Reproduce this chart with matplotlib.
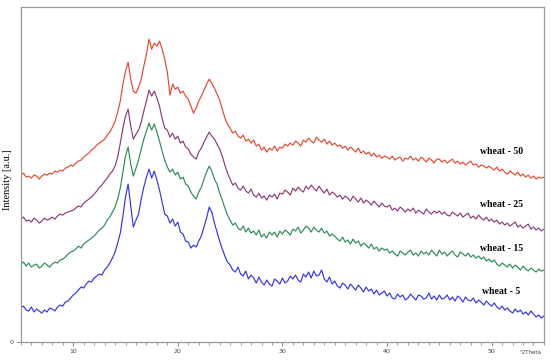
import numpy as np
import matplotlib
matplotlib.use("Agg")
import matplotlib.pyplot as plt
from matplotlib.ticker import MultipleLocator

# 2theta grid, 0.25 deg step from 5 to 55
two_theta = np.arange(5.0, 55.001, 0.25)

wheat_5 = [
    34, 36, 32, 31, 35, 30, 33, 31, 29, 32, 30, 34, 33, 31, 35, 37, 36, 40, 41, 44,
    47, 49, 52, 55, 54, 58, 61, 60, 64, 66, 68, 67, 72, 75, 79, 84, 90, 99, 109, 126,
    145, 158, 136, 115, 122, 128, 143, 155, 165, 173, 164, 171, 162, 152, 140, 128, 126, 119, 123, 116,
    120, 110, 108, 101, 100, 94, 97, 95, 101, 106, 115, 124, 135, 130, 119, 110, 101, 93, 86, 80,
    77, 72, 70, 75, 68, 66, 71, 63, 67, 64, 59, 65, 60, 57, 62, 58, 56, 63, 61, 58,
    64, 59, 61, 66, 63, 67, 62, 60, 68, 65, 70, 64, 71, 66, 67, 72, 63, 60, 65, 58,
    61, 56, 54, 59, 57, 53, 58, 55, 52, 57, 54, 50, 55, 51, 53, 48, 52, 47, 49, 51,
    46, 49, 44, 43, 48, 45, 47, 42, 44, 48, 45, 42, 47, 46, 43, 44, 49, 43, 46, 42,
    47, 43, 44, 47, 42, 45, 41, 46, 44, 40, 45, 42, 41, 44, 39, 42, 40, 37, 41, 38,
    36, 39, 35, 33, 36, 32, 34, 31, 29, 33, 30, 32, 28, 30, 27, 31, 28, 25, 27, 24,
    26,
]

wheat_15 = [
    78, 80, 76, 79, 75, 77, 78, 74, 76, 79, 77, 75, 78, 80, 79, 82, 83, 85, 88, 90,
    91, 93, 96, 94, 98, 100, 102, 104, 106, 109, 112, 114, 117, 122, 125, 130, 135, 143, 154, 170,
    186, 195, 178, 166, 174, 182, 193, 203, 211, 219, 212, 218, 210, 201, 191, 182, 175, 170, 173, 167,
    170, 163, 165, 158, 156, 150, 146, 143, 150, 155, 163, 170, 176, 171, 163, 158, 149, 142, 134, 127,
    122, 117, 119, 114, 112, 116, 110, 114, 109, 111, 107, 112, 105, 108, 104, 110, 107, 110, 105, 111,
    108, 112, 110, 107, 113, 111, 115, 109, 112, 116, 114, 110, 115, 112, 110, 114, 109, 111, 106, 108,
    106, 103, 101, 105, 100, 102, 98, 103, 99, 101, 96, 99, 97, 94, 98, 93, 95, 91, 94, 92,
    93, 89, 91, 88, 86, 91, 89, 87, 90, 92, 87, 89, 86, 91, 88, 90, 87, 92, 89, 86,
    92, 88, 90, 86, 89, 91, 87, 85, 90, 88, 86, 89, 85, 87, 84, 86, 83, 85, 81, 83,
    80, 82, 78, 76, 79, 77, 75, 78, 74, 77, 75, 72, 76, 73, 71, 74, 72, 70, 73, 71,
    72,
]

wheat_25 = [
    123, 125, 121, 122, 120, 124, 122, 119, 121, 124, 122, 123, 125, 123, 126, 128, 127, 129, 130, 131,
    132, 134, 136, 135, 139, 141, 143, 145, 148, 151, 155, 157, 161, 164, 168, 171, 176, 185, 199, 214,
    226, 233, 216, 203, 208, 212, 220, 231, 241, 252, 246, 251, 244, 236, 224, 214, 212, 205, 209, 203,
    206, 199, 201, 195, 193, 188, 185, 183, 190, 194, 200, 205, 210, 206, 203, 198, 193, 186, 177, 169,
    163, 157, 159, 154, 152, 156, 151, 149, 153, 147, 145, 149, 144, 146, 142, 147, 145, 148, 143, 149,
    148, 152, 150, 147, 154, 151, 155, 152, 150, 156, 153, 157, 154, 151, 156, 152, 149, 153, 147, 150,
    148, 145, 147, 143, 146, 144, 141, 146, 143, 140, 144, 139, 142, 140, 137, 141, 138, 135, 139, 136,
    135, 137, 132, 134, 131, 135, 133, 130, 133, 131, 134, 129, 132, 130, 128, 133, 130, 128, 131, 129,
    131, 128, 130, 127, 126, 130, 128, 126, 129, 125, 127, 129, 124, 126, 123, 127, 124, 122, 125, 121,
    123, 120, 122, 118, 120, 117, 119, 116, 118, 120, 115, 117, 114, 116, 118, 113, 115, 112, 114, 111,
    113,
]

wheat_50 = [
    167, 169, 165, 166, 164, 167, 166, 163, 166, 168, 167, 169, 168, 171, 170, 172, 171, 174, 175, 177,
    176, 179, 181, 182, 185, 187, 189, 192, 194, 197, 199, 201, 203, 207, 210, 215, 221, 230, 241, 258,
    271, 280, 263, 251, 249, 255, 263, 276, 288, 303, 293, 299, 296, 301, 293, 283, 270, 247, 258, 253,
    255, 249, 251, 246, 243, 236, 229, 234, 241, 246, 252, 258, 263, 259, 254, 248, 242, 233, 224, 218,
    214, 209, 211, 206, 204, 207, 201, 203, 199, 202, 196, 198, 192, 195, 190, 194, 192, 196, 191, 195,
    194, 198, 196, 199, 197, 201, 199, 196, 202, 200, 204, 201, 199, 205, 202, 200, 203, 198, 201, 197,
    199, 196, 197, 194, 196, 192, 195, 193, 190, 194, 189, 191, 188, 190, 186, 189, 185, 187, 184, 186,
    185, 183, 186, 182, 184, 185, 181, 184, 183, 186, 182, 184, 181, 185, 183, 180, 184, 182, 179, 183,
    183, 180, 182, 179, 181, 183, 179, 181, 178, 180, 177, 179, 181, 177, 178, 175, 177, 176, 174, 176,
    174, 172, 175, 171, 173, 170, 168, 171, 169, 167, 170, 166, 168, 165, 167, 164, 166, 163, 165, 164,
    165,
]

series = [
    ("wheat - 5", wheat_5, "#3535e0", 51),
    ("wheat - 15", wheat_15, "#2f8a58", 94),
    ("wheat - 25", wheat_25, "#8a3c78", 138),
    ("wheat - 50", wheat_50, "#e04a32", 191),
]

fig = plt.figure(figsize=(5.5, 3.6), dpi=100)
ax = fig.add_axes([0.038, 0.05, 0.951, 0.93])

for name, vals, col, ylab in series:
    ax.plot(two_theta, vals, color=col, lw=0.85)
    ax.text(50.95, ylab, name, ha="center", va="center", fontsize=7,
            fontweight="bold", family="Liberation Serif")

ax.set_xlim(5, 55)
ax.set_ylim(0, 335)
ax.xaxis.set_major_locator(MultipleLocator(10))
ax.xaxis.set_minor_locator(MultipleLocator(1))
ax.set_yticks([0])
ax.tick_params(axis="both", which="major", labelsize=4.5, length=3, width=0.6,
               color="#777777", labelcolor="#444444", pad=2)
ax.tick_params(axis="x", which="minor", length=1.8, width=0.5, color="#777777")
for s in ax.spines.values():
    s.set_color("#999999")
    s.set_linewidth(0.9)

fig.text(8 / 550, 0.5, "Intensity [a.u.]", rotation=90, ha="center", va="center",
         fontsize=7.5, family="Liberation Serif")
fig.text(530 / 550, 1 - 353 / 360, "°2Theta", ha="center", va="center",
         fontsize=4, color="#444444")

fig.savefig("out.png", dpi=100)
